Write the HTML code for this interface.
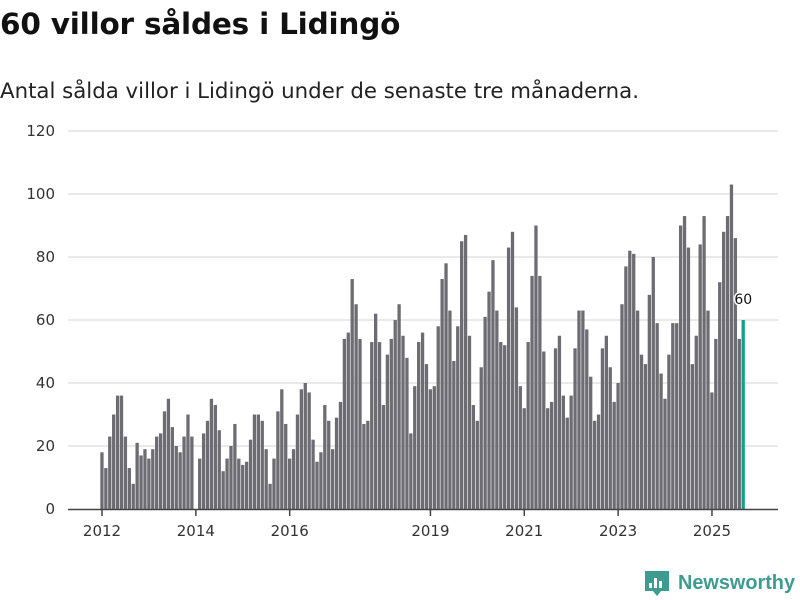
<!DOCTYPE html>
<html><head><meta charset="utf-8"><style>
body{margin:0;background:#fff;font-family:"Liberation Sans","DejaVu Sans",sans-serif;}
#wrap{position:relative;width:800px;height:600px;overflow:hidden;}
h1{position:absolute;left:0;top:7px;margin:0;font-size:29.5px;font-weight:bold;color:#111;font-family:"DejaVu Sans",sans-serif;letter-spacing:-0.2px}
.sub{position:absolute;left:0;top:79px;font-size:21.3px;color:#222;font-family:"DejaVu Sans",sans-serif}
svg{position:absolute;left:0;top:0}
</style></head><body><div id="wrap">
<h1>60 villor såldes i Lidingö</h1>
<div class="sub">Antal sålda villor i Lidingö under de senaste tre månaderna.</div>
<svg id="c" width="800" height="600"></svg>
</div>
<script>
const years=[2012,2013,2014,2015,2016,2017,2018,2019,2020,2021,2022,2023,2024,2025];
const tickYears=[2012,2014,2016,2019,2021,2023,2025];
const yTicks=[0,20,40,60,80,100,120];
const values=[
18,13,23,30,36,36,23,13,8,21,17,19,
16,19,23,24,31,35,26,20,18,23,30,23,
0,16,24,28,35,33,25,12,16,20,27,16,
14,15,22,30,30,28,19,8,16,31,38,27,
16,19,30,38,40,37,22,15,18,33,28,19,
29,34,54,56,73,65,54,27,28,53,62,53,
33,49,54,60,65,55,48,24,39,53,56,46,
38,39,58,73,78,63,47,58,85,87,55,33,
28,45,61,69,79,63,53,52,83,88,64,39,
32,53,74,90,74,50,32,34,51,55,36,29,
36,51,63,63,57,42,28,30,51,55,45,34,
40,65,77,82,81,63,49,46,68,80,59,43,
35,49,59,59,90,93,83,46,55,84,93,63,
37,54,72,88,93,103,86,54,60];
const NS='http://www.w3.org/2000/svg';
const svg=document.getElementById('c');
const x=i=>102+i*3.91;
const y=v=>509-v*3.15;
function mk(t,a){const e=document.createElementNS(NS,t);for(const k in a)e.setAttribute(k,a[k]);svg.appendChild(e);return e;}
yTicks.forEach(v=>{
 if(v>0){const g=mk('line',{x1:68,x2:778,y1:y(v),y2:y(v),stroke:'#dcdcdc','stroke-width':1.2});
 
 }
 const t=mk('text',{x:55,y:y(v)+5,'text-anchor':'end','font-size':15,fill:'#333','font-family':'DejaVu Sans, sans-serif'});
 t.textContent=v;
 
 
});
values.forEach((v,i)=>{
 if(!v)return;
 const last=i===values.length-1;
 const r=mk('rect',{x:x(i)-1.7,y:y(v),width:3.3,height:v*3.15,fill:last?'#12a08e':'#6d6c72'});
 
 
 if(last){const t=mk('text',{x:x(i),y:y(v)-16,'text-anchor':'middle','font-size':14,fill:'#111',stroke:'#fff','stroke-width':3,'paint-order':'stroke','font-family':'DejaVu Sans, sans-serif'});
 t.textContent=v;
 
 }
});
const ax=mk('line',{x1:68,x2:778,y1:509.5,y2:509.5,stroke:'#444','stroke-width':1.5});


tickYears.forEach(yr=>{
 const i=(yr-2012)*12;
 const tk=mk('line',{x1:x(i),x2:x(i),y1:509,y2:516,stroke:'#444','stroke-width':1.5});
 
 
 const t=mk('text',{x:x(i),y:536,'text-anchor':'middle','font-size':15,fill:'#333','font-family':'DejaVu Sans, sans-serif'});
 t.textContent=yr;
 
 
});
const lg=mk('g',{});


const ic=document.createElementNS(NS,'path');
ic.setAttribute('d','M645 571h24v20h-8l-4 5-4-5h-8z');ic.setAttribute('fill','#3d9b8f');lg.appendChild(ic);
[[649,583,3,5],[654,578,3,10],[659,581,3,7]].forEach(b=>{const r=document.createElementNS(NS,'rect');r.setAttribute('x',b[0]);r.setAttribute('y',b[1]);r.setAttribute('width',b[2]);r.setAttribute('height',b[3]);r.setAttribute('fill','#fff');lg.appendChild(r);});
const lt=document.createElementNS(NS,'text');
lt.setAttribute('x',678);lt.setAttribute('y',589);lt.setAttribute('font-size',20);lt.setAttribute('font-weight','bold');lt.setAttribute('fill','#3d9b8f');lt.setAttribute('font-family','Liberation Sans, sans-serif');
lt.setAttribute('textLength',117);lt.setAttribute('lengthAdjust','spacingAndGlyphs');
lt.textContent='Newsworthy';lg.appendChild(lt);
</script></body></html>
